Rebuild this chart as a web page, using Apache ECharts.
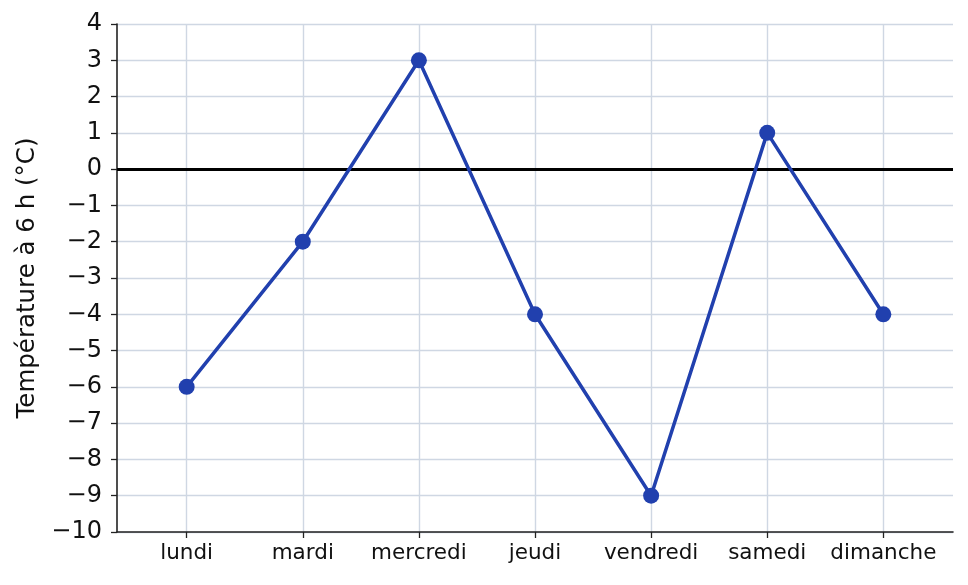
<!DOCTYPE html>
<html lang="fr">
<head>
  <meta charset="UTF-8">
  <title>Température à 6 h</title>
  <script src="https://cdn.jsdelivr.net/npm/echarts@6/dist/echarts.min.js"></script>
</head>
<body style="margin: 0;">
<div id="main" style="width: 968px; height: 585px;"></div>
<script type="text/javascript">
  const jours = ['lundi', 'mardi', 'mercredi', 'jeudi', 'vendredi', 'samedi', 'dimanche']
  const temperatures = [-6, -2, 3, -4, -9, 1, -4]
  const yTicks = [-10, -9, -8, -7, -6, -5, -4, -3, -2, -1, 0, 1, 2, 3, 4]

  const myChart = echarts.init(document.getElementById('main'))
  const police = 'DejaVu Sans'
  const positions = jours.map((j, i) => i)

  const option = {
    animation: false,
    grid: {
      left: 117,
      right: 15,
      top: 24,
      bottom: 53
    },
    xAxis: {
      type: 'value',
      min: -0.6,
      max: 6.6,
      axisLine: {show: true, onZero: false, lineStyle: {color: '#222', width: 1.6}},
      axisTick: {show: true, customValues: positions, length: 6, lineStyle: {color: '#222', width: 1.3}},
      axisLabel: {
        customValues: positions,
        formatter: v => jours[Math.round(v)],
        color: '#111',
        fontFamily: police,
        fontSize: 21.5,
        margin: 10
      },
      splitLine: {show: true, lineStyle: {color: '#cfd7e3', width: 1.4}}
    },
    yAxis: {
      type: 'value',
      min: yTicks[0],
      max: yTicks[yTicks.length - 1],
      interval: 1,
      name: 'Température à 6 h (°C)',
      nameLocation: 'middle',
      nameGap: 76,
      nameRotate: 90,
      nameTextStyle: {color: '#111', fontFamily: police, fontSize: 24.5},
      axisLine: {show: true, onZero: false, lineStyle: {color: '#222', width: 1.6}},
      axisTick: {show: true, length: 6, lineStyle: {color: '#222', width: 1.3}},
      axisLabel: {
        formatter: v => (v < 0 ? '\u2212' + Math.abs(v) : String(v)),
        color: '#111',
        fontFamily: police,
        fontSize: 24,
        margin: 15,
        padding: [5, 0, 0, 0]
      },
      splitLine: {show: true, lineStyle: {color: '#cfd7e3', width: 1.4}}
    },
    series: [
      {
        type: 'line',
        data: temperatures.map((t, i) => [i, t]),
        symbol: 'circle',
        symbolSize: 16,
        lineStyle: {color: '#2140ae', width: 3.5},
        itemStyle: {color: '#2140ae'},
        z: 10,
        markLine: {
          silent: true,
          symbol: 'none',
          label: {show: false},
          lineStyle: {color: '#000', width: 3, type: 'solid'},
          data: [{yAxis: 0}],
          z: 5
        }
      }
    ]
  }

  myChart.setOption(option)
</script>
</body>
</html>
